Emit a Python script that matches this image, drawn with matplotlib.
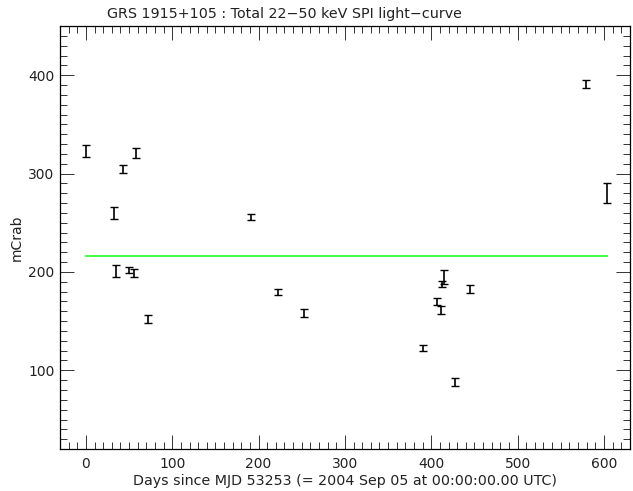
import numpy as np
import matplotlib
matplotlib.use('Agg')
import matplotlib.pyplot as plt
from matplotlib.ticker import MultipleLocator

plt.rcParams.update({'font.size': 10, 'font.family': 'DejaVu Sans'})

# light-curve points
days = [0, 32, 35, 43, 50, 56, 58, 72, 191, 222, 253,
        391, 407, 411, 413, 415, 428, 445, 579, 604]
flux = [323, 260, 201, 305, 202, 199, 321, 152, 256, 180, 158,
        123, 170, 161, 188, 195, 88, 183, 391, 280]
flux_err = [6, 6, 6, 4, 3, 4, 5, 4, 3, 3, 4,
            3, 4, 4, 3, 7, 4, 4, 4, 10]

mean_level = 216
mean_span = [0, 604]

fig = plt.figure(figsize=(6.33, 4.91), dpi=100)
ax = fig.add_axes([0.0948, 0.0855, 0.9002, 0.8615])

ax.errorbar(days, flux, yerr=flux_err, fmt='none', ecolor='black',
            elinewidth=1.2, capsize=3, capthick=1.0)
ax.plot(mean_span, [mean_level, mean_level], color='#44ff44', lw=1.4, zorder=0)

ax.set_xlim(-30, 630)
ax.set_ylim(20, 450)
ax.xaxis.set_major_locator(MultipleLocator(100))
ax.xaxis.set_minor_locator(MultipleLocator(10))
ax.yaxis.set_major_locator(MultipleLocator(100))
ax.yaxis.set_minor_locator(MultipleLocator(10))
ax.tick_params(which='both', direction='in', top=True, right=True, labelsize=10,
               width=0.7, color='#333333', labelcolor='#222222')
ax.tick_params(which='major', length=10)
ax.tick_params(which='minor', length=5)
ax.tick_params(axis='x', which='major', pad=6)
ax.tick_params(axis='y', which='major', pad=4)
for s in ax.spines.values():
    s.set_linewidth(0.9)

ax.set_xlabel('Days since MJD 53253 (= 2004 Sep 05 at 00:00:00.00 UTC)', fontsize=10.3,
              labelpad=2, color='#222222')
ax.set_ylabel('mCrab', labelpad=3, color='#222222')
fig.text(0.45, 0.971, 'GRS 1915+105 : Total 22\u221250 keV SPI light\u2212curve',
         fontsize=10.3, ha='center', va='center', color='#222222')

fig.savefig('out.png', dpi=100)
